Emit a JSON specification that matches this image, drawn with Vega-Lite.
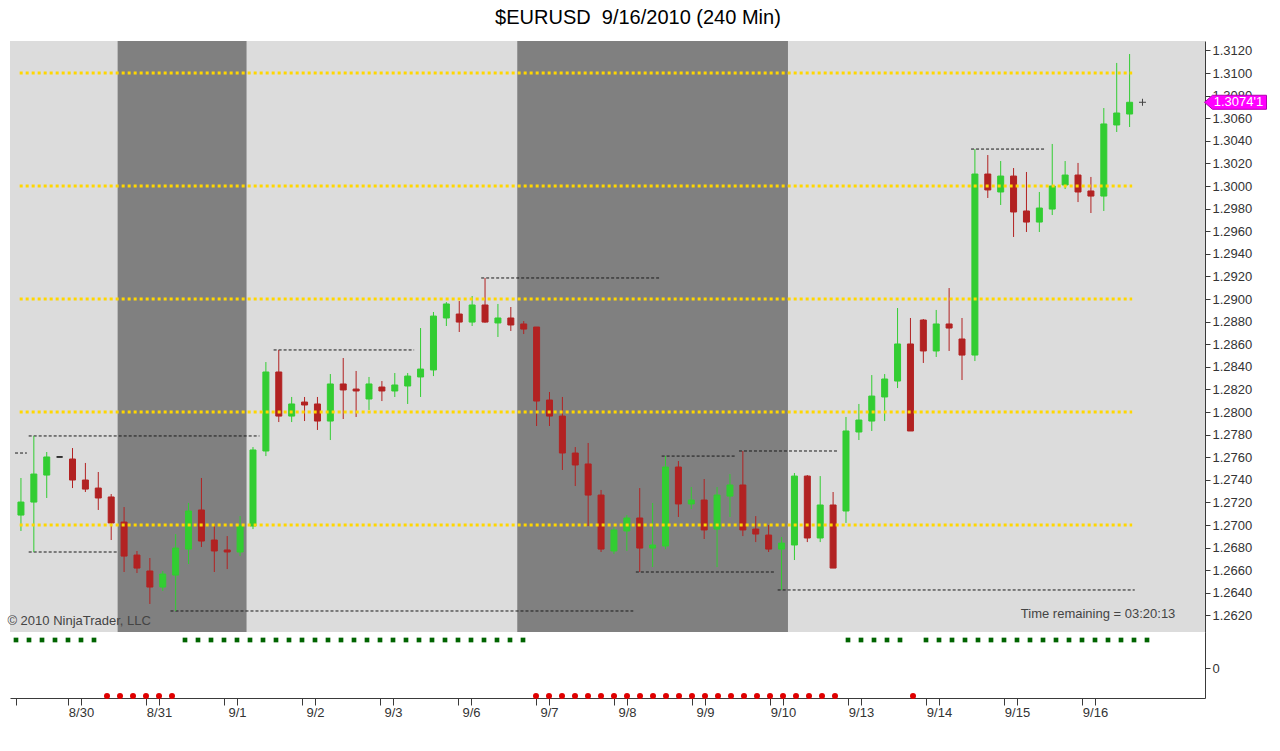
{
  "$schema": "https://vega.github.io/schema/vega-lite/v6.json",
  "background": "white",
  "padding": {"left": 7, "top": 8, "right": 5, "bottom": 5},
  "title": {"text": "$EURUSD\u00a0 9/16/2010 (240 Min)", "fontSize": 20, "fontWeight": "normal", "color": "#000000", "offset": 13, "anchor": "middle"},
  "config": {
    "font": "Liberation Sans",
    "view": {"stroke": null},
    "axis": {"grid": false, "title": null, "labelOverlap": false, "labelFlush": false, "domainColor": "#3a3a3a", "tickColor": "#3a3a3a", "labelColor": "#333333", "labelFontSize": 13}
  },
  "datasets": {
    "candles": [
      {"bar": 0, "open": 1.27088, "high": 1.27416, "low": 1.26947, "close": 1.27203},
      {"bar": 1, "open": 1.27203, "high": 1.27788, "low": 1.26761, "close": 1.27451},
      {"bar": 2, "open": 1.27442, "high": 1.27646, "low": 1.27239, "close": 1.27602},
      {"bar": 3, "open": 1.27602, "high": 1.27602, "low": 1.27602, "close": 1.27602},
      {"bar": 4, "open": 1.27584, "high": 1.27681, "low": 1.27327, "close": 1.27398},
      {"bar": 5, "open": 1.27398, "high": 1.27549, "low": 1.27292, "close": 1.27318},
      {"bar": 6, "open": 1.27327, "high": 1.27469, "low": 1.27133, "close": 1.27239},
      {"bar": 7, "open": 1.27248, "high": 1.27274, "low": 1.26867, "close": 1.27018},
      {"bar": 8, "open": 1.27026, "high": 1.27159, "low": 1.26584, "close": 1.26725},
      {"bar": 9, "open": 1.26734, "high": 1.26770, "low": 1.26575, "close": 1.26619},
      {"bar": 10, "open": 1.26593, "high": 1.26708, "low": 1.26301, "close": 1.26451},
      {"bar": 11, "open": 1.26451, "high": 1.26593, "low": 1.26416, "close": 1.26566},
      {"bar": 12, "open": 1.26557, "high": 1.26920, "low": 1.26239, "close": 1.26796},
      {"bar": 13, "open": 1.26787, "high": 1.27195, "low": 1.26655, "close": 1.27124},
      {"bar": 14, "open": 1.27133, "high": 1.27416, "low": 1.26805, "close": 1.26858},
      {"bar": 15, "open": 1.26867, "high": 1.27009, "low": 1.26584, "close": 1.26770},
      {"bar": 16, "open": 1.26779, "high": 1.26902, "low": 1.26610, "close": 1.26761},
      {"bar": 17, "open": 1.26761, "high": 1.27079, "low": 1.26725, "close": 1.26991},
      {"bar": 18, "open": 1.26991, "high": 1.27690, "low": 1.26964, "close": 1.27664},
      {"bar": 19, "open": 1.27655, "high": 1.28442, "low": 1.27610, "close": 1.28354},
      {"bar": 20, "open": 1.28354, "high": 1.28549, "low": 1.27911, "close": 1.27964},
      {"bar": 21, "open": 1.27964, "high": 1.28133, "low": 1.27911, "close": 1.28071},
      {"bar": 22, "open": 1.28088, "high": 1.28133, "low": 1.27920, "close": 1.28062},
      {"bar": 23, "open": 1.28071, "high": 1.28133, "low": 1.27841, "close": 1.27920},
      {"bar": 24, "open": 1.27920, "high": 1.28336, "low": 1.27752, "close": 1.28248},
      {"bar": 25, "open": 1.28248, "high": 1.28478, "low": 1.27938, "close": 1.28195},
      {"bar": 26, "open": 1.28203, "high": 1.28363, "low": 1.27956, "close": 1.28186},
      {"bar": 27, "open": 1.28115, "high": 1.28310, "low": 1.28018, "close": 1.28248},
      {"bar": 28, "open": 1.28221, "high": 1.28274, "low": 1.28097, "close": 1.28186},
      {"bar": 29, "open": 1.28186, "high": 1.28345, "low": 1.28133, "close": 1.28239},
      {"bar": 30, "open": 1.28230, "high": 1.28345, "low": 1.28071, "close": 1.28318},
      {"bar": 31, "open": 1.28310, "high": 1.28743, "low": 1.28133, "close": 1.28380},
      {"bar": 32, "open": 1.28372, "high": 1.28885, "low": 1.28318, "close": 1.28849},
      {"bar": 33, "open": 1.28832, "high": 1.28973, "low": 1.28761, "close": 1.28956},
      {"bar": 34, "open": 1.28867, "high": 1.28982, "low": 1.28708, "close": 1.28796},
      {"bar": 35, "open": 1.28796, "high": 1.29026, "low": 1.28761, "close": 1.28947},
      {"bar": 36, "open": 1.28947, "high": 1.29186, "low": 1.28790, "close": 1.28796},
      {"bar": 37, "open": 1.28788, "high": 1.28956, "low": 1.28664, "close": 1.28832},
      {"bar": 38, "open": 1.28832, "high": 1.28929, "low": 1.28717, "close": 1.28770},
      {"bar": 39, "open": 1.28779, "high": 1.28805, "low": 1.28690, "close": 1.28734},
      {"bar": 40, "open": 1.28752, "high": 1.28752, "low": 1.27876, "close": 1.28097},
      {"bar": 41, "open": 1.28106, "high": 1.28177, "low": 1.27876, "close": 1.27964},
      {"bar": 42, "open": 1.27964, "high": 1.28133, "low": 1.27487, "close": 1.27637},
      {"bar": 43, "open": 1.27637, "high": 1.27690, "low": 1.27345, "close": 1.27531},
      {"bar": 44, "open": 1.27540, "high": 1.27726, "low": 1.26991, "close": 1.27265},
      {"bar": 45, "open": 1.27265, "high": 1.27310, "low": 1.26761, "close": 1.26787},
      {"bar": 46, "open": 1.26770, "high": 1.26982, "low": 1.26743, "close": 1.26956},
      {"bar": 47, "open": 1.26947, "high": 1.27088, "low": 1.26770, "close": 1.27062},
      {"bar": 48, "open": 1.27062, "high": 1.27327, "low": 1.26584, "close": 1.26796},
      {"bar": 49, "open": 1.26796, "high": 1.27195, "low": 1.26628, "close": 1.26823},
      {"bar": 50, "open": 1.26814, "high": 1.27610, "low": 1.26787, "close": 1.27513},
      {"bar": 51, "open": 1.27513, "high": 1.27566, "low": 1.27071, "close": 1.27186},
      {"bar": 52, "open": 1.27186, "high": 1.27336, "low": 1.27141, "close": 1.27221},
      {"bar": 53, "open": 1.27221, "high": 1.27407, "low": 1.26876, "close": 1.26956},
      {"bar": 54, "open": 1.26964, "high": 1.27336, "low": 1.26628, "close": 1.27265},
      {"bar": 55, "open": 1.27256, "high": 1.27451, "low": 1.27071, "close": 1.27354},
      {"bar": 56, "open": 1.27354, "high": 1.27655, "low": 1.26902, "close": 1.26956},
      {"bar": 57, "open": 1.26964, "high": 1.27079, "low": 1.26849, "close": 1.26920},
      {"bar": 58, "open": 1.26911, "high": 1.27000, "low": 1.26761, "close": 1.26787},
      {"bar": 59, "open": 1.26787, "high": 1.26894, "low": 1.26425, "close": 1.26840},
      {"bar": 60, "open": 1.26823, "high": 1.27460, "low": 1.26690, "close": 1.27433},
      {"bar": 61, "open": 1.27433, "high": 1.27442, "low": 1.26849, "close": 1.26885},
      {"bar": 62, "open": 1.26885, "high": 1.27433, "low": 1.26849, "close": 1.27177},
      {"bar": 63, "open": 1.27177, "high": 1.27292, "low": 1.26619, "close": 1.26619},
      {"bar": 64, "open": 1.27124, "high": 1.27956, "low": 1.27018, "close": 1.27832},
      {"bar": 65, "open": 1.27823, "high": 1.28071, "low": 1.27752, "close": 1.27929},
      {"bar": 66, "open": 1.27920, "high": 1.28327, "low": 1.27832, "close": 1.28141},
      {"bar": 67, "open": 1.28133, "high": 1.28336, "low": 1.27920, "close": 1.28292},
      {"bar": 68, "open": 1.28274, "high": 1.28920, "low": 1.28212, "close": 1.28602},
      {"bar": 69, "open": 1.28602, "high": 1.28832, "low": 1.27832, "close": 1.27832},
      {"bar": 70, "open": 1.28814, "high": 1.28823, "low": 1.28434, "close": 1.28540},
      {"bar": 71, "open": 1.28540, "high": 1.28903, "low": 1.28487, "close": 1.28779},
      {"bar": 72, "open": 1.28779, "high": 1.29097, "low": 1.28540, "close": 1.28743},
      {"bar": 73, "open": 1.28646, "high": 1.28832, "low": 1.28283, "close": 1.28504},
      {"bar": 74, "open": 1.28504, "high": 1.30327, "low": 1.28451, "close": 1.30106},
      {"bar": 75, "open": 1.30106, "high": 1.30274, "low": 1.29894, "close": 1.29965},
      {"bar": 76, "open": 1.29947, "high": 1.30221, "low": 1.29832, "close": 1.30088},
      {"bar": 77, "open": 1.30088, "high": 1.30159, "low": 1.29549, "close": 1.29770},
      {"bar": 78, "open": 1.29779, "high": 1.30124, "low": 1.29593, "close": 1.29681},
      {"bar": 79, "open": 1.29681, "high": 1.29947, "low": 1.29593, "close": 1.29805},
      {"bar": 80, "open": 1.29796, "high": 1.30372, "low": 1.29743, "close": 1.30000},
      {"bar": 81, "open": 1.30009, "high": 1.30221, "low": 1.29973, "close": 1.30097},
      {"bar": 82, "open": 1.30097, "high": 1.30204, "low": 1.29858, "close": 1.29947},
      {"bar": 83, "open": 1.29956, "high": 1.30080, "low": 1.29761, "close": 1.29911},
      {"bar": 84, "open": 1.29911, "high": 1.30690, "low": 1.29779, "close": 1.30549},
      {"bar": 85, "open": 1.30540, "high": 1.31089, "low": 1.30478, "close": 1.30646},
      {"bar": 86, "open": 1.30637, "high": 1.31168, "low": 1.30522, "close": 1.30741}
    ],
    "sessions": [
      {"start": 7.5, "end": 17.5},
      {"start": 38.5, "end": 59.5}
    ],
    "levels": [
      {"level": 1.27}, {"level": 1.28}, {"level": 1.29}, {"level": 1.30}, {"level": 1.31}
    ],
    "priorRange": [
      {"from": -0.46, "to": 0.46, "price": 1.27637},
      {"from": 0.6, "to": 18.5, "price": 1.27788},
      {"from": 0.6, "to": 7.5, "price": 1.26761},
      {"from": 11.6, "to": 47.5, "price": 1.26239},
      {"from": 19.6, "to": 30.5, "price": 1.28549},
      {"from": 35.7, "to": 49.5, "price": 1.29186},
      {"from": 49.7, "to": 55.5, "price": 1.27610},
      {"from": 55.7, "to": 63.4, "price": 1.27655},
      {"from": 47.7, "to": 58.5, "price": 1.26584},
      {"from": 58.7, "to": 86.4, "price": 1.26425},
      {"from": 73.7, "to": 79.5, "price": 1.30327}
    ],
    "last": [
      {"bar": 87, "price": 1.30741, "label": "1.3074'1"}
    ],
    "trend": [
      {"bar": 0, "trend": 1}, {"bar": 1, "trend": 1}, {"bar": 2, "trend": 1}, {"bar": 3, "trend": 1},
      {"bar": 4, "trend": 1}, {"bar": 5, "trend": 1}, {"bar": 6, "trend": 1}, {"bar": 7, "trend": -1},
      {"bar": 8, "trend": -1}, {"bar": 9, "trend": -1}, {"bar": 10, "trend": -1}, {"bar": 11, "trend": -1},
      {"bar": 12, "trend": -1}, {"bar": 13, "trend": 1}, {"bar": 14, "trend": 1}, {"bar": 15, "trend": 1},
      {"bar": 16, "trend": 1}, {"bar": 17, "trend": 1}, {"bar": 18, "trend": 1}, {"bar": 19, "trend": 1},
      {"bar": 20, "trend": 1}, {"bar": 21, "trend": 1}, {"bar": 22, "trend": 1}, {"bar": 23, "trend": 1},
      {"bar": 24, "trend": 1}, {"bar": 25, "trend": 1}, {"bar": 26, "trend": 1}, {"bar": 27, "trend": 1},
      {"bar": 28, "trend": 1}, {"bar": 29, "trend": 1}, {"bar": 30, "trend": 1}, {"bar": 31, "trend": 1},
      {"bar": 32, "trend": 1}, {"bar": 33, "trend": 1}, {"bar": 34, "trend": 1}, {"bar": 35, "trend": 1},
      {"bar": 36, "trend": 1}, {"bar": 37, "trend": 1}, {"bar": 38, "trend": 1}, {"bar": 39, "trend": 1},
      {"bar": 40, "trend": -1}, {"bar": 41, "trend": -1}, {"bar": 42, "trend": -1}, {"bar": 43, "trend": -1},
      {"bar": 44, "trend": -1}, {"bar": 45, "trend": -1}, {"bar": 46, "trend": -1}, {"bar": 47, "trend": -1},
      {"bar": 48, "trend": -1}, {"bar": 49, "trend": -1}, {"bar": 50, "trend": -1}, {"bar": 51, "trend": -1},
      {"bar": 52, "trend": -1}, {"bar": 53, "trend": -1}, {"bar": 54, "trend": -1}, {"bar": 55, "trend": -1},
      {"bar": 56, "trend": -1}, {"bar": 57, "trend": -1}, {"bar": 58, "trend": -1}, {"bar": 59, "trend": -1},
      {"bar": 60, "trend": -1}, {"bar": 61, "trend": -1}, {"bar": 62, "trend": -1}, {"bar": 63, "trend": -1},
      {"bar": 64, "trend": 1}, {"bar": 65, "trend": 1}, {"bar": 66, "trend": 1}, {"bar": 67, "trend": 1},
      {"bar": 68, "trend": 1}, {"bar": 69, "trend": -1}, {"bar": 70, "trend": 1}, {"bar": 71, "trend": 1},
      {"bar": 72, "trend": 1}, {"bar": 73, "trend": 1}, {"bar": 74, "trend": 1}, {"bar": 75, "trend": 1},
      {"bar": 76, "trend": 1}, {"bar": 77, "trend": 1}, {"bar": 78, "trend": 1}, {"bar": 79, "trend": 1},
      {"bar": 80, "trend": 1}, {"bar": 81, "trend": 1}, {"bar": 82, "trend": 1}, {"bar": 83, "trend": 1},
      {"bar": 84, "trend": 1}, {"bar": 85, "trend": 1}, {"bar": 86, "trend": 1}, {"bar": 87, "trend": 1}
    ]
  },
  "spacing": 0,
  "bounds": "flush",
  "resolve": {"scale": {"x": "independent", "y": "independent"}},
  "vconcat": [
    {
      "width": 1195,
      "height": 591,
      "view": {"fill": "#DCDCDC", "stroke": null},
      "layer": [
        {
          "data": {"name": "sessions"},
          "mark": {"type": "rect", "color": "#808080"},
          "encoding": {
            "x": {"field": "start", "type": "quantitative",
                  "scale": {"domain": [-0.4615, 91.4615], "nice": false, "zero": false},
                  "axis": {"labels": false, "ticks": false, "domain": true}},
            "x2": {"field": "end"}
          }
        },
        {
          "data": {"name": "priorRange"},
          "mark": {"type": "rule", "color": "#1a1a1a", "strokeWidth": 1, "strokeDash": [3, 2]},
          "encoding": {
            "x": {"field": "from", "type": "quantitative"},
            "x2": {"field": "to"},
            "y": {"field": "price", "type": "quantitative",
                  "scale": {"domain": [1.260531, 1.312832], "nice": false, "zero": false},
                  "axis": {"orient": "right", "format": ".4f", "tickSize": 5, "tickCount": 40, "labelPadding": 2,
                           "values": [1.262, 1.264, 1.266, 1.268, 1.27, 1.272, 1.274, 1.276, 1.278, 1.28, 1.282, 1.284, 1.286, 1.288, 1.29, 1.292, 1.294, 1.296, 1.298, 1.3, 1.302, 1.304, 1.306, 1.308, 1.31, 1.312]}}
          }
        },
        {
          "data": {"name": "candles"},
          "mark": {"type": "rule", "strokeWidth": 1},
          "encoding": {
            "x": {"field": "bar", "type": "quantitative"},
            "y": {"field": "low", "type": "quantitative"},
            "y2": {"field": "high"},
            "color": {
              "condition": [
                {"test": "datum.close > datum.open", "value": "#32CD32"},
                {"test": "datum.close < datum.open", "value": "#B22222"}
              ],
              "value": "#000000"
            }
          }
        },
        {
          "data": {"name": "candles"},
          "mark": {"type": "bar", "width": 6, "strokeWidth": 1},
          "encoding": {
            "x": {"field": "bar", "type": "quantitative"},
            "y": {"field": "open", "type": "quantitative"},
            "y2": {"field": "close"},
            "fill": {
              "condition": [
                {"test": "datum.close > datum.open", "value": "#32CD32"},
                {"test": "datum.close < datum.open", "value": "#B22222"}
              ],
              "value": "#000000"
            },
            "stroke": {
              "condition": [
                {"test": "datum.close > datum.open", "value": "#32CD32"},
                {"test": "datum.close < datum.open", "value": "#B22222"}
              ],
              "value": "#000000"
            }
          }
        },
        {
          "data": {"name": "levels"},
          "mark": {"type": "rule", "color": "#FFD700", "strokeWidth": 3, "strokeDash": [3, 3]},
          "encoding": {
            "x": {"datum": -0.1},
            "x2": {"datum": 86.2},
            "y": {"field": "level", "type": "quantitative"}
          }
        },
        {
          "data": {"name": "last"},
          "mark": {"type": "point", "shape": "M-1,0L1,0M0,-1L0,1", "size": 49, "filled": false, "stroke": "#444444", "strokeWidth": 1, "opacity": 1},
          "encoding": {
            "x": {"field": "bar", "type": "quantitative"},
            "y": {"field": "price", "type": "quantitative"}
          }
        },
        {
          "data": {"name": "last"},
          "mark": {"type": "point", "shape": "M-1,0L-0.742,-0.226L1,-0.226L1,0.226L-0.742,0.226Z", "size": 3844, "filled": true, "fill": "#FF00FF", "stroke": "#B000B0", "strokeWidth": 1, "opacity": 1, "xOffset": 93},
          "encoding": {
            "x": {"field": "bar", "type": "quantitative"},
            "y": {"field": "price", "type": "quantitative"}
          }
        },
        {
          "data": {"name": "last"},
          "mark": {"type": "text", "color": "white", "fontSize": 13, "align": "center", "baseline": "middle", "dx": 96},
          "encoding": {
            "x": {"field": "bar", "type": "quantitative"},
            "y": {"field": "price", "type": "quantitative"},
            "text": {"field": "label"}
          }
        },
        {
          "data": {"values": [{"label": "© 2010 NinjaTrader, LLC"}]},
          "mark": {"type": "text", "align": "left", "baseline": "middle", "fontSize": 13, "color": "#444444"},
          "encoding": {
            "x": {"datum": -1.05},
            "y": {"datum": 1.2615},
            "text": {"field": "label"}
          }
        },
        {
          "data": {"values": [{"label": "Time remaining = 03:20:13"}]},
          "mark": {"type": "text", "align": "right", "baseline": "middle", "fontSize": 13, "color": "#444444"},
          "encoding": {
            "x": {"datum": 89.55},
            "y": {"datum": 1.26212},
            "text": {"field": "label"}
          }
        }
      ]
    },
    {
      "width": 1195,
      "height": 66,
      "view": {"fill": "white", "stroke": null},
      "data": {"name": "trend"},
      "layer": [
        {
          "transform": [{"filter": "datum.trend > 0"}],
          "mark": {"type": "point", "shape": "square", "size": 22, "filled": true, "color": "#006400", "opacity": 1},
          "encoding": {
            "x": {"field": "bar", "type": "quantitative",
                  "scale": {"domain": [-0.4615, 91.4615], "nice": false, "zero": false},
                  "axis": {"values": [0, 4, 5, 10, 11, 16, 17, 22, 23, 28, 29, 34, 35, 40, 41, 46, 47, 52, 53, 58, 59, 64, 65, 70, 71, 76, 77, 82, 83],
                           "labelExpr": "(datum.value - 5) % 6 == 0 ? ['8/30','8/31','9/1','9/2','9/3','9/6','9/7','9/8','9/9','9/10','9/13','9/14','9/15','9/16'][(datum.value - 5) / 6] : ''",
                           "tickCount": 40, "tickSize": 7, "labelPadding": 1, "domain": true}},
            "y": {"field": "trend", "type": "quantitative",
                  "scale": {"domain": [-1.0714, 1.2857], "nice": false, "zero": false},
                  "axis": {"orient": "right", "values": [0], "tickSize": 5, "labelPadding": 2, "domain": true}}
          }
        },
        {
          "transform": [{"filter": "datum.trend < 0"}],
          "mark": {"type": "point", "shape": "circle", "size": 36, "filled": true, "color": "#E00000", "opacity": 1},
          "encoding": {
            "x": {"field": "bar", "type": "quantitative"},
            "y": {"field": "trend", "type": "quantitative"}
          }
        }
      ]
    }
  ]
}
